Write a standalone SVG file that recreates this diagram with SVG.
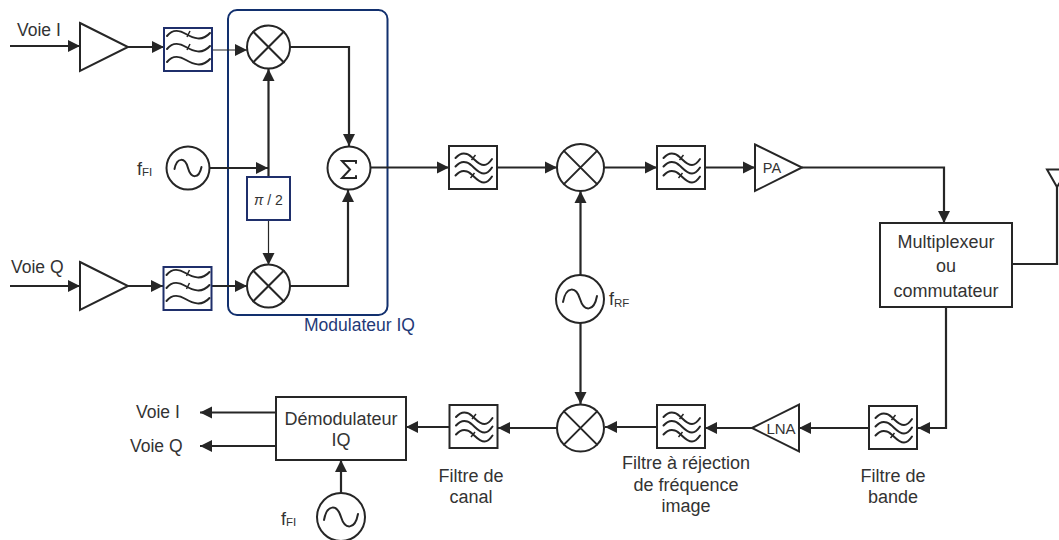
<svg xmlns="http://www.w3.org/2000/svg" width="1059" height="540" viewBox="0 0 1059 540">
<style>
text{font-family:"Liberation Sans",Arial,sans-serif;font-size:17.500px;fill:#333}
.l{font-size:18px}
.m{text-anchor:middle}
.sub{font-size:11.500px}
.shape{fill:#fff;stroke:#262626;stroke-width:2}
.nv{fill:#fff;stroke:#1f2f6b;stroke-width:2}
.w{fill:none;stroke:#262626;stroke-width:2;stroke-linecap:round}
.t{fill:none;stroke:#262626;stroke-width:1.500}
.c{fill:none;stroke:#262626;stroke-width:2.200}
.c1{fill:none;stroke:#262626;stroke-width:1.200}
</style>
<defs>
<marker id="a" markerUnits="userSpaceOnUse" markerWidth="13" markerHeight="13" refX="12" refY="6.500" orient="auto"><path d="M0 .5L12 6.500L0 12.500Z" fill="#262626"/></marker>
<g id="xm"><circle r="21.500" class="shape"/><path d="M-15.200-15.200L15.200 15.200M15.200-15.200L-15.200 15.200" class="w"/></g>
<g id="xb"><circle r="23.500" class="shape"/><path d="M-16.600-16.600L16.600 16.600M16.600-16.600L-16.600 16.600" class="w"/></g>
<path id="sine" d="M-13.500 1C-11-11-3-11 0 0S11 11 13.500-1" class="w"/>
<path id="sineb" d="M-17 3C-14-13-4-13 0 0S14 13 17-3" class="w"/>
<g id="fs"><rect width="48" height="43" class="nv"/><path d="M3 8C9 1 15 2 22 6S38 14 46 5M3 21C9 14 15 15 22 19S38 27 46 18M3 34C9 27 15 28 22 32S38 40 46 31" class="w"/><path d="M23 9L26 3M23 22L26 16" class="t"/></g>
<g id="fb"><rect width="48" height="43" class="shape"/><path d="M6.500 12C10 8 14 6.500 18 8C24 10 28 19 35 19C39 19 41 16 43 13M6.500 20.500C10 16.500 14 15 18 16.500C24 18.500 28 27.500 35 27.500C39 27.500 41 24.500 43 21.500M6.500 29.500C10 25.500 14 24 18 25.500C24 27.500 28 36.500 35 36.500C39 36.500 41 33.500 43 30.500" class="w"/><path d="M22.500 14L26.500 9M21.500 32L25.500 27" class="t"/></g>
</defs>

<g id="modulateur-iq"><rect x="228" y="10" width="159.500" height="305" rx="9" fill="none" stroke="#12306e" stroke-width="2"/><text x="304" y="331" style="fill:#1f3a78">Modulateur IQ</text></g>

<g id="connectors">
<path d="M10 46H80" class="c" marker-end="url(#a)"/>
<path d="M128 47H164" class="c" marker-end="url(#a)"/>
<path d="M213 50H247" class="c1" marker-end="url(#a)"/>
<path d="M10 286H80" class="c" marker-end="url(#a)"/>
<path d="M128 286H163" class="c" marker-end="url(#a)"/>
<path d="M212 286H247" class="c" marker-end="url(#a)"/>
<path d="M210 168H268" class="c" marker-end="url(#a)"/>
<path d="M268.500 177V69" class="c" marker-end="url(#a)"/>
<path d="M268.500 220V265" class="c1" marker-end="url(#a)"/>
<path d="M290 47H349V146" class="c" marker-end="url(#a)"/>
<path d="M290 286H348V190" class="c" marker-end="url(#a)"/>
<path d="M370 167.500H449" class="c" marker-end="url(#a)"/>
<path d="M497 167.500H557" class="c" marker-end="url(#a)"/>
<path d="M604 167.500H657" class="c" marker-end="url(#a)"/>
<path d="M705 167.500H755" class="c" marker-end="url(#a)"/>
<path d="M802 167.500H944V223" class="c" marker-end="url(#a)"/>
<path d="M580.500 275V191" class="c" marker-end="url(#a)"/>
<path d="M580.500 323V404" class="c" marker-end="url(#a)"/>
<path d="M1012 264H1057V187" class="c"/>
<path d="M946 307V428H918" class="c" marker-end="url(#a)"/>
<path d="M869 428H799" class="c" marker-end="url(#a)"/>
<path d="M752 428H705" class="c" marker-end="url(#a)"/>
<path d="M657 427H605" class="c" marker-end="url(#a)"/>
<path d="M557 428H498" class="c" marker-end="url(#a)"/>
<path d="M449 427H406" class="c" marker-end="url(#a)"/>
<path d="M276 412.500H200" class="c" marker-end="url(#a)"/>
<path d="M276 446H200" class="c" marker-end="url(#a)"/>
<path d="M341 493V460" class="c" marker-end="url(#a)"/>
</g>

<g id="voie-i"><text x="17" y="36">Voie I</text></g>
<g id="ampli-i"><path d="M80 23L128 47L80 71Z" class="shape"/></g>
<g id="filtre-i"><use href="#fs" x="164" y="28"/></g>
<g id="melangeur-i"><use href="#xm" x="268.500" y="47"/></g>
<g id="voie-q"><text x="11" y="273">Voie Q</text></g>
<g id="ampli-q"><path d="M80 262L128 286L80 310Z" class="shape"/></g>
<g id="filtre-q"><use href="#fs" x="163.500" y="267"/></g>
<g id="melangeur-q"><use href="#xm" x="268.500" y="286"/></g>
<g id="osc-fi"><circle cx="188" cy="168" r="21.500" class="shape"/><use href="#sine" x="188" y="168"/><text x="137" y="175" class="l">f<tspan class="sub" dy="1">FI</tspan></text></g>
<g id="dephaseur"><rect x="247" y="177" width="43" height="43" class="nv"/><text x="268.500" y="205" class="m" style="font-size:14px"><tspan style="font-style:italic">π</tspan> / 2</text></g>
<g id="sommateur"><circle cx="349" cy="168" r="21.500" class="shape"/><path d="M356 163V161H342L350 169.500L342 178H356V176" class="w"/></g>
<g id="filtre-2"><use href="#fb" x="449" y="146"/></g>
<g id="melangeur-rf-tx"><use href="#xb" x="580.500" y="167.500"/></g>
<g id="filtre-3"><use href="#fb" x="657" y="146"/></g>
<g id="pa"><path d="M755 144.500L802 167.500L755 191Z" class="shape"/><text x="772" y="173" class="m" style="font-size:14.500px">PA</text></g>
<g id="osc-rf"><circle cx="580" cy="299" r="24" class="shape"/><use href="#sineb" x="580" y="299"/><text x="609" y="305" class="l">f<tspan class="sub" dy="2">RF</tspan></text></g>
<g id="multiplexeur"><rect x="880" y="223" width="132" height="84" class="shape"/><text x="946" y="248" class="m l">Multiplexeur</text><text x="946" y="272" class="m l">ou</text><text x="946" y="297" class="m l">commutateur</text></g>
<g id="antenne"><path d="M1047 169.500H1068L1057 187Z" class="shape"/></g>
<g id="filtre-bande"><use href="#fb" x="869" y="406"/><text x="893" y="482" class="m l">Filtre de</text><text x="893" y="503" class="m l">bande</text></g>
<g id="lna"><path d="M752 428L799 404.500V451.500Z" class="shape"/><text x="781" y="434" class="m" style="font-size:15px">LNA</text></g>
<g id="filtre-image"><use href="#fb" x="657" y="405"/><text x="686" y="469" class="m l">Filtre à réjection</text><text x="686" y="491" class="m l">de fréquence</text><text x="686" y="512" class="m l">image</text></g>
<g id="melangeur-rf-rx"><use href="#xb" x="580.500" y="428"/></g>
<g id="filtre-canal"><use href="#fb" x="449.500" y="405"/><text x="471" y="482" class="m l">Filtre de</text><text x="471" y="503" class="m l">canal</text></g>
<g id="demodulateur"><rect x="276" y="397" width="130" height="63" class="shape"/><text x="341" y="425" class="m l">Démodulateur</text><text x="341" y="446" class="m l">IQ</text></g>
<g id="sortie-i"><text x="136" y="418">Voie I</text></g>
<g id="sortie-q"><text x="130" y="452">Voie Q</text></g>
<g id="osc-fi-rx"><circle cx="341" cy="517" r="24" class="shape"/><use href="#sineb" x="341" y="517"/><text x="281" y="525" class="l">f<tspan class="sub" dy="1">FI</tspan></text></g>
</svg>
